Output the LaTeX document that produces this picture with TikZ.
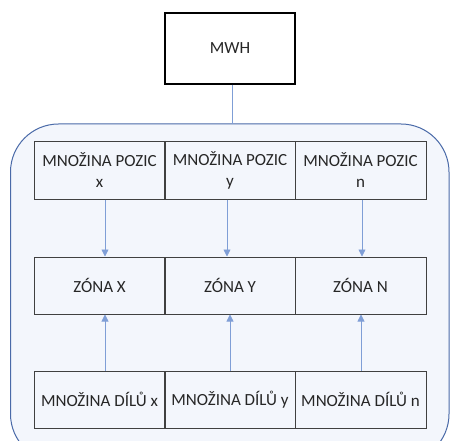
\documentclass[tikz,border=0pt]{standalone}
\usepackage{fontspec}
\setmainfont{Carlito}
\usetikzlibrary{arrows.meta}
\definecolor{conn}{HTML}{7F9ED6}
\definecolor{frame}{HTML}{4A6AA8}
\definecolor{bg}{HTML}{F3F6FC}
\definecolor{boxline}{HTML}{404040}
\tikzset{
  cell/.style={draw=boxline, line width=1pt, minimum width=131pt, minimum height=57pt, inner sep=0pt, align=center, font=\fontsize{17}{21}\selectfont, text=black!85},
  topbox/.style={draw=black, line width=1.2pt, minimum width=130pt, minimum height=71pt, inner sep=0pt, font=\fontsize{17}{21}\selectfont, fill=white, text=black!85},
  link/.style={draw=conn, line width=0.8pt},
  arr/.style={link, -{Triangle[length=7pt,width=7pt]}}
}
\begin{document}
\begin{tikzpicture}[x=1pt,y=-1pt]
\useasboundingbox (0,0) rectangle (450,441);
\begin{scope}
\clip (0,0) rectangle (450,441);
\draw[draw=frame, line width=1pt, fill=bg, rounded corners=48pt] (10.5,124) rectangle (449,462);
\end{scope}
\node[topbox] (mwh) at (230,48.5) {MWH};
\coordinate (ftop) at (232,124);
\draw[link] (mwh.south -| ftop) -- (ftop);

\node[cell] (px) at (99.5,170.5) {MNOŽINA POZIC\\x};
\node[cell] (py) at (230,170.5) {MNOŽINA POZIC\\y};
\node[cell] (pn) at (360.5,170.5) {MNOŽINA POZIC\\n};

\node[cell] (zx) at (99.5,285.5) {ZÓNA X};
\node[cell] (zy) at (230,285.5) {ZÓNA Y};
\node[cell] (zn) at (360.5,285.5) {ZÓNA N};

\node[cell] (dx) at (99.5,399.5) {MNOŽINA DÍLŮ x};
\node[cell] (dy) at (230,399.5) {MNOŽINA DÍLŮ y};
\node[cell] (dn) at (360.5,399.5) {MNOŽINA DÍLŮ n};

\coordinate (a1) at (105,0);
\coordinate (a2) at (227,0);
\coordinate (a3) at (362,0);
\coordinate (b1) at (105,0);
\coordinate (b2) at (230,0);
\coordinate (b3) at (361,0);
\draw[arr] (px.south -| a1) -- (zx.north -| a1);
\draw[arr] (py.south -| a2) -- (zy.north -| a2);
\draw[arr] (pn.south -| a3) -- (zn.north -| a3);
\draw[arr] (dx.north -| b1) -- (zx.south -| b1);
\draw[arr] (dy.north -| b2) -- (zy.south -| b2);
\draw[arr] (dn.north -| b3) -- (zn.south -| b3);
\end{tikzpicture}
\end{document}
